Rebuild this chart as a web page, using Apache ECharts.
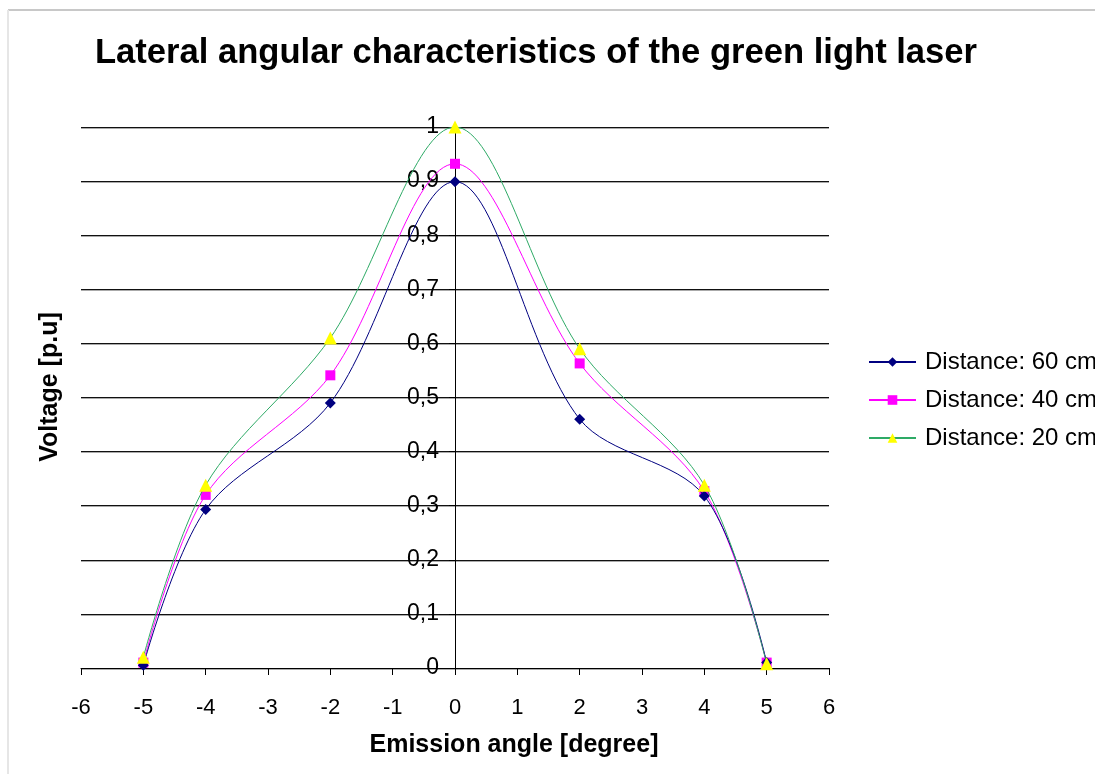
<!DOCTYPE html>
<html>
<head>
<meta charset="utf-8">
<script src="https://cdn.jsdelivr.net/npm/echarts@6/dist/echarts.min.js"></script>
<style>
  html, body { margin: 0; padding: 0; background: #fff; }
  #chart { width: 1095px; height: 774px; }
</style>
</head>
<body>
<div id="chart"></div>
<script>
// angles where the points were measured
const angles = [-5, -4, -2, 0, 2, 4, 5]

// normalised voltage per distance
const dist60 = [0.005, 0.293, 0.49, 0.899, 0.46, 0.318, 0.01]
const dist40 = [0.01, 0.32, 0.541, 0.932, 0.563, 0.327, 0.01]
const dist20 = [0.02, 0.338, 0.61, 1.0, 0.59, 0.338, 0.008]

const seriesNames = ['Distance: 60 cm', 'Distance: 40 cm', 'Distance: 20 cm']

const font = "'Liberation Sans', Arial, sans-serif"

const toPoints = (vals) => angles.map((a, i) => [a, vals[i]])

const chart = echarts.init(document.getElementById('chart'))

// plot area
const gridLeft = 81
const gridRight = 266
const plotWidth = 1095 - gridLeft - gridRight
// y axis sits at angle 0, i.e. half way across (-6..6)
const yAxisShift = plotWidth / 2

chart.setOption({
  animation: false,
  backgroundColor: '#fff',
  title: {
    text: 'Lateral angular characteristics of the green light laser',
    left: 531,
    top: 31,
    textAlign: 'center',
    textStyle: { fontFamily: font, fontSize: 34.6, fontWeight: 'bold', color: '#000' }
  },
  grid: { left: gridLeft, right: gridRight, top: 127, bottom: 106 },
  legend: {
    orient: 'vertical',
    left: 863,
    top: 345,
    itemWidth: 47,
    itemHeight: 12,
    itemGap: 14,
    textStyle: { fontFamily: font, fontSize: 24, color: '#000', padding: [0, 0, 0, 4] },
    data: seriesNames
  },
  xAxis: {
    type: 'value',
    min: -6,
    max: 6,
    interval: 1,
    axisLine: { lineStyle: { color: '#000', width: 1 } },
    axisTick: { length: 7, lineStyle: { color: '#000' } },
    axisLabel: { margin: 29, fontFamily: font, fontSize: 22, color: '#000' },
    splitLine: { show: false }
  },
  yAxis: {
    type: 'value',
    min: 0,
    max: 1,
    interval: 0.1,
    position: 'left',
    offset: -yAxisShift,
    axisLine: { show: true, onZero: false, lineStyle: { color: '#000', width: 1 } },
    axisTick: { show: true, length: 6, lineStyle: { color: '#000' } },
    axisLabel: {
      margin: 16,
      padding: [6, 0, 0, 0],
      fontFamily: font,
      fontSize: 23,
      color: '#000',
      formatter: (v) => String(Math.round(v * 10) / 10).replace('.', ',')
    },
    splitLine: {
      lineStyle: { color: '#111', width: 1, shadowColor: '#aaa', shadowOffsetY: 1 }
    }
  },
  graphic: [
    { type: 'line', shape: { x1: 8, y1: 10, x2: 1095, y2: 10 }, style: { stroke: '#c8c8c8', lineWidth: 2 } },
    { type: 'line', shape: { x1: 8, y1: 10, x2: 8, y2: 774 }, style: { stroke: '#e6e6e6', lineWidth: 2 } },
    {
      type: 'text',
      x: 50,
      y: 387,
      rotation: Math.PI / 2,
      style: {
        text: 'Voltage [p.u]',
        fontFamily: font,
        fontSize: 25,
        fontWeight: 'bold',
        fill: '#000',
        textAlign: 'center',
        textVerticalAlign: 'middle'
      }
    },
    {
      type: 'text',
      x: 514,
      y: 745,
      style: {
        text: 'Emission angle [degree]',
        fontFamily: font,
        fontSize: 25,
        fontWeight: 'bold',
        fill: '#000',
        textAlign: 'center',
        textVerticalAlign: 'middle'
      }
    }
  ],
  series: [
    {
      name: seriesNames[0],
      type: 'line',
      smooth: 0.33,
      data: toPoints(dist60),
      symbol: 'diamond',
      symbolSize: 11,
      lineStyle: { color: '#000080', width: 1 },
      itemStyle: { color: '#000080' },
      z: 4
    },
    {
      name: seriesNames[1],
      type: 'line',
      smooth: 0.33,
      data: toPoints(dist40),
      symbol: 'rect',
      symbolSize: 10,
      lineStyle: { color: '#ff00ff', width: 1 },
      itemStyle: { color: '#ff00ff' },
      z: 3
    },
    {
      name: seriesNames[2],
      type: 'line',
      smooth: 0.33,
      data: toPoints(dist20),
      symbol: 'triangle',
      symbolSize: 13,
      lineStyle: { color: '#2eaa66', width: 1 },
      itemStyle: { color: '#ffff00' },
      z: 5
    }
  ]
})
</script>
</body>
</html>
